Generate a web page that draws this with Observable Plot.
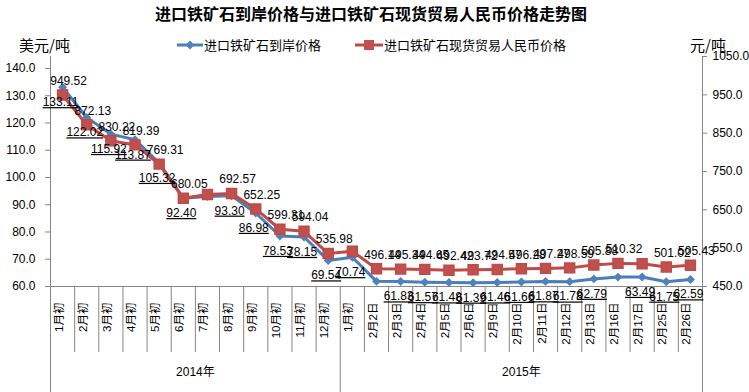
<!DOCTYPE html>
<html><head><meta charset="utf-8">
<script src="https://cdn.jsdelivr.net/npm/d3@7"></script>
<script src="https://cdn.jsdelivr.net/npm/@observablehq/plot@0.6"></script>
<style>
body{margin:0;background:#fff;}
#wrap{position:relative;width:749px;height:392px;overflow:hidden;font-family:"Liberation Sans","Noto Sans CJK SC",sans-serif;color:#000;background:#fff;}
#title{position:absolute;z-index:2;left:0;width:742px;top:3px;text-align:center;font-family:"Noto Sans CJK SC",sans-serif;font-weight:bold;font-size:16px;line-height:20px;}
.unit{position:absolute;z-index:2;top:35px;font-family:"Noto Sans CJK SC",sans-serif;font-size:15px;line-height:20px;}
.leg{position:absolute;z-index:2;top:36px;display:flex;align-items:center;font-family:"Noto Sans CJK SC",sans-serif;font-size:13px;line-height:18px;}
.leg svg{display:block;}
#chart{position:absolute;z-index:1;left:0;top:48px;}
#chart svg{background:transparent !important;}
.blue-lbl text{text-decoration:underline;}
</style>
</head><body>
<div id="wrap">
  <div id="chart"></div>
  <div id="title">进口铁矿石到岸价格与进口铁矿石现货贸易人民币价格走势图</div>
  <div class="unit" style="left:19px">美元/吨</div>
  <div class="unit" style="left:690px">元/吨</div>
  <div class="leg" style="left:176px"><svg width="28" height="16"><line x1="1" x2="27" y1="8" y2="8" stroke="#4A7EBB" stroke-width="3"/><path d="M14,3.5L18.5,8L14,12.5L9.5,8Z" fill="#4F81BD"/></svg><span>进口铁矿石到岸价格</span></div>
  <div class="leg" style="left:354px"><svg width="30" height="16"><line x1="1" x2="29" y1="8" y2="8" stroke="#BE4B48" stroke-width="3"/><rect x="10" y="3" width="10" height="10" fill="#C0504D"/></svg><span>进口铁矿石现货贸易人民币价格</span></div>
</div>
<script>
// ---- data ----
const months2014 = ["1月初","2月初","3月初","4月初","5月初","6月初","7月初","8月初","9月初","10月初","11月初","12月初"];
const days2015 = ["1月初","2月2日","2月3日","2月4日","2月5日","2月6日","2月9日","2月10日","2月11日","2月12日","2月13日","2月16日","2月17日","2月25日","2月26日"];
const yearLabels = ["2014年","2015年"];
// 进口铁矿石到岸价格 (美元/吨, left axis)
const cifUSD = [133.11,122.02,115.92,113.87,105.32,92.40,93.0,93.30,86.98,78.53,78.15,69.54,
                70.74,61.9,61.83,61.57,61.48,61.39,61.46,61.66,61.87,61.78,62.79,63.45,63.49,61.75,62.59];
// 进口铁矿石现货贸易人民币价格 (元/吨, right axis)
const spotRMB = [949.52,872.13,830.22,819.39,769.31,680.05,690.0,692.57,652.25,599.31,594.04,535.98,
                 542.0,496.14,495.34,494.65,492.42,493.72,494.57,496.28,497.27,498.59,505.88,510.32,509.5,501.02,505.43];
const cifUnlabeled = [6,13,23];
const rmbUnlabeled = [6,12,24];
const leftTicks = [60,70,80,90,100,110,120,130,140];
const rightTicks = [450,550,650,750,850,950,1050];
const leftDomain = [60,144.4];
const rightDomain = [450,1050];

// ---- build ----
const cats = [...months2014, ...days2015];
const idx = cats.map((_, i) => i);
const toLeft = v => leftDomain[0] + (v - rightDomain[0]) * (leftDomain[1]-leftDomain[0])/(rightDomain[1]-rightDomain[0]);
const blue = idx.map(i => ({i, v: cifUSD[i]}));
const red = idx.map(i => ({i, v: spotRMB[i], y: toLeft(spotRMB[i])}));
const groups = [
  {label: yearLabels[0], c: (0 + months2014.length - 1)/2},
  {label: yearLabels[1], c: (months2014.length + cats.length - 1)/2}
];
const bounds = d3.range(cats.length + 1).map(k => k - 0.5);
const edgeBounds = [bounds[0], bounds[bounds.length-1]];
const yearBound = [months2014.length - 0.5];
const innerBounds = bounds.filter(b => !edgeBounds.includes(b) && !yearBound.includes(b));
const axisCol = "#868686";

const chart = Plot.plot({
  width: 749, height: 344,
  marginTop: 8, marginBottom: 106, marginLeft: 50, marginRight: 47,
  style: {fontFamily: "'Liberation Sans','Noto Sans CJK SC',sans-serif", fontSize: "12px", color: "#000", background: "transparent"},
  x: {type: "linear", domain: [-0.5, cats.length - 0.5], axis: null},
  y: {domain: leftDomain, axis: null},
  marks: [
    Plot.ruleY([leftDomain[0]], {stroke: axisCol}),
    Plot.ruleX(edgeBounds, {x: d => d, stroke: axisCol, insetBottom: -106}),
    Plot.ruleX(yearBound, {x: d => d, stroke: axisCol, insetTop: 230, insetBottom: -106}),
    Plot.ruleX(innerBounds, {x: d => d, stroke: axisCol, insetTop: 230, insetBottom: -66}),
    Plot.axisY(leftTicks, {anchor: "left", tickFormat: d => d.toFixed(1), tickSize: 5, tickPadding: 10, stroke: axisCol, fill: "#000", fontSize: 12, label: null}),
    Plot.axisY(rightTicks, {anchor: "right", y: d => toLeft(d), tickFormat: d => d.toFixed(1), tickSize: 4, tickPadding: 6, stroke: axisCol, fill: "#000", fontSize: 12, label: null}),
    Plot.text(idx, {x: d => d, text: d => cats[d], frameAnchor: "bottom", rotate: -90, textAnchor: "end", dy: 16, fontSize: 11.5, fill: "#000"}),
    Plot.text(groups, {x: "c", text: "label", frameAnchor: "bottom", dy: 89, fontSize: 12, fill: "#000"}),
    Plot.line(blue, {x: "i", y: "v", stroke: "#4A7EBB", strokeWidth: 3}),
    Plot.dot(blue, {x: "i", y: "v", symbol: "diamond2", r: 4, fill: "#4F81BD", stroke: "none"}),
    Plot.line(red, {x: "i", y: "y", stroke: "#BE4B48", strokeWidth: 3}),
    Plot.dot(red, {x: "i", y: "y", symbol: "square", r: 5.6, fill: "#C0504D", stroke: "#BE4B48"}),
    Plot.text(blue.filter(d => !cifUnlabeled.includes(d.i)), {x: "i", y: "v", text: d => d.v.toFixed(2), dy: 15, dx: -2, fontSize: 12, fill: "#000", className: "blue-lbl"}),
    Plot.text(red.filter(d => !rmbUnlabeled.includes(d.i)), {x: "i", y: "y", text: d => d.v.toFixed(2), dy: -14, dx: 6, fontSize: 12, fill: "#000"})
  ]
});
document.getElementById("chart").appendChild(chart);
</script>
</body></html>
